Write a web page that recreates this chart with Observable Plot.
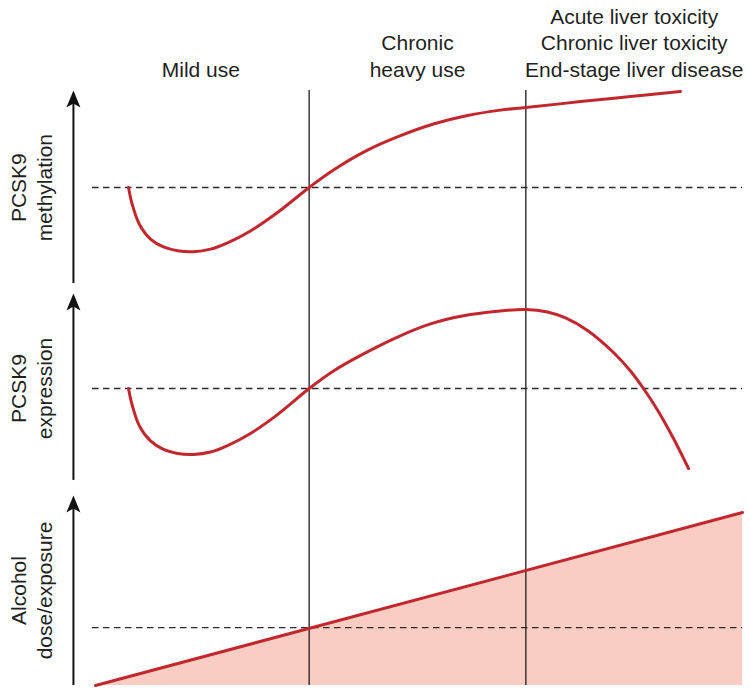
<!DOCTYPE html>
<html><head><meta charset="utf-8">
<script src="https://cdn.jsdelivr.net/npm/d3@7"></script>
<script src="https://cdn.jsdelivr.net/npm/@observablehq/plot@0.6"></script>
<style>body{margin:0;background:#fff;} #chart svg{display:block}</style>
</head><body><div id="chart"></div>
<script>
// x = cumulative alcohol use (stage boundaries at 1 and 2)
const stageLabels = ["Mild use", "Chronic\nheavy use", "Acute liver toxicity\nChronic liver toxicity\nEnd-stage liver disease"];
const stageMid = [0.5, 1.5, 2.5];
const stageBounds = [1, 2];

// panels (top to bottom), levels in arbitrary units 0-100 within each panel
const panelNames = ["methylation", "expression", "alcohol"];
const panelLabels = ["PCSK9\nmethylation", "PCSK9\nexpression", "Alcohol\ndose/exposure"];
const panelBaseline = [51.1, 49.75, 29.2];

// PCSK9 methylation curve
const methX = [0.1662,0.1823,0.2169,0.2677,0.3277,0.3923,0.4661,0.5446,0.6231,0.7292,0.8538,1.0,1.1123,1.2692,1.4215,1.5738,1.7308,1.8831,2.0,2.2523,2.483,2.7138];
const methY = [51.1,43.0,32.4,25.1,21.1,19.2,18.7,20.0,23.2,29.2,38.5,51.1,59.9,69.9,77.2,83.1,87.4,90.1,91.4,94.4,97.0,99.5];

// PCSK9 expression curve
const exprX = [0.1662,0.1823,0.2169,0.2677,0.3277,0.3923,0.4661,0.5446,0.6231,0.7292,0.8538,1.0,1.1123,1.2508,1.4077,1.56,1.7123,1.8692,2.0,2.1,2.1831,2.2846,2.4046,2.483,2.543,2.6077,2.6815,2.7508];
const exprY = [49.75,41.7,30.8,23.3,19.0,17.0,16.5,17.7,21.0,27.1,36.6,49.75,58.6,67.2,75.7,82.3,86.4,88.7,89.6,88.3,85.3,79.0,67.9,58.6,49.75,38.9,24.5,9.4];

// Alcohol dose / exposure
const alcX = [0.014, 3.0];
const alcY = [0, 87.2];

// ---- layout (not data) ----
const panelOffset = {methylation: 200, expression: 100, alcohol: 0};
const axisExtent = {methylation: [2.7, 100], expression: [3.4, 97.6], alcohol: [0, 95.8]};
const labelCenter = {methylation: 51, expression: 49.75, alcohol: 47.9};
const axisX = -0.088, labelX = -0.286;

const red = "#c1272d", ink = "#231f20";

const meth = methX.map((x, i) => ({x, y: methY[i] + panelOffset.methylation}));
const expr = exprX.map((x, i) => ({x, y: exprY[i] + panelOffset.expression}));
const alc = alcX.map((x, i) => ({x, y: alcY[i] + panelOffset.alcohol}));
const panels = panelNames.map((name, i) => ({
  name, label: panelLabels[i], off: panelOffset[name],
  base: panelBaseline[i] + panelOffset[name],
  lo: axisExtent[name][0] + panelOffset[name],
  hi: axisExtent[name][1] + panelOffset[name],
  center: labelCenter[name] + panelOffset[name]
}));
const stages = stageLabels.map((label, i) => ({label, x: stageMid[i]}));

const arrowHead = {
  draw(ctx, size) {
    const s = Math.sqrt(size / Math.PI) / 5;
    ctx.moveTo(0, 0);
    ctx.lineTo(7 * s, 17 * s);
    ctx.lineTo(0, 13 * s);
    ctx.lineTo(-7 * s, 17 * s);
    ctx.closePath();
  }
};

const chart = Plot.plot({
  width: 750, height: 692,
  marginTop: 90, marginBottom: 7, marginLeft: 92, marginRight: 8,
  x: {domain: [0, 3], axis: null},
  y: {domain: [0, 300], axis: null},
  style: {fontFamily: "'Liberation Sans', Arial, Helvetica, sans-serif", background: "#fff"},
  marks: [
    Plot.areaY(alc, {x: "x", y1: 0, y2: "y", fill: "#fbcdc2"}),
    Plot.ruleY(panels, {y: "base", x1: 0, x2: 3, stroke: "#2a2a2a", strokeWidth: 1.3, strokeDasharray: "6.5,4.5"}),
    Plot.ruleX(stageBounds, {x: d => d, y1: 0, y2: 300, stroke: "#2a2a2a", strokeWidth: 1.4}),
    Plot.line(alc, {x: "x", y: "y", stroke: red, strokeWidth: 3}),
    Plot.line(meth, {x: "x", y: "y", stroke: red, strokeWidth: 3, curve: "catmull-rom"}),
    Plot.line(expr, {x: "x", y: "y", stroke: red, strokeWidth: 3, curve: "catmull-rom"}),
    Plot.ruleX(panels, {x: () => axisX, y1: "lo", y2: d => d.hi - 5, stroke: "#111", strokeWidth: 2}),
    Plot.dot(panels, {x: () => axisX, y: "hi", symbol: arrowHead, r: 5, fill: "#111", stroke: "none"}),
    Plot.text(stages, {x: "x", text: "label", frameAnchor: "top", lineAnchor: "bottom", dy: -14, fontSize: 21, lineHeight: 1.26, fill: ink}),
    Plot.text(panels, {x: () => labelX, y: "center", text: "label", rotate: -90, fontSize: 21, lineHeight: 1.26, textAnchor: "middle", lineAnchor: "middle", fill: ink})
  ]
});
document.getElementById("chart").appendChild(chart);
</script>
</body></html>
